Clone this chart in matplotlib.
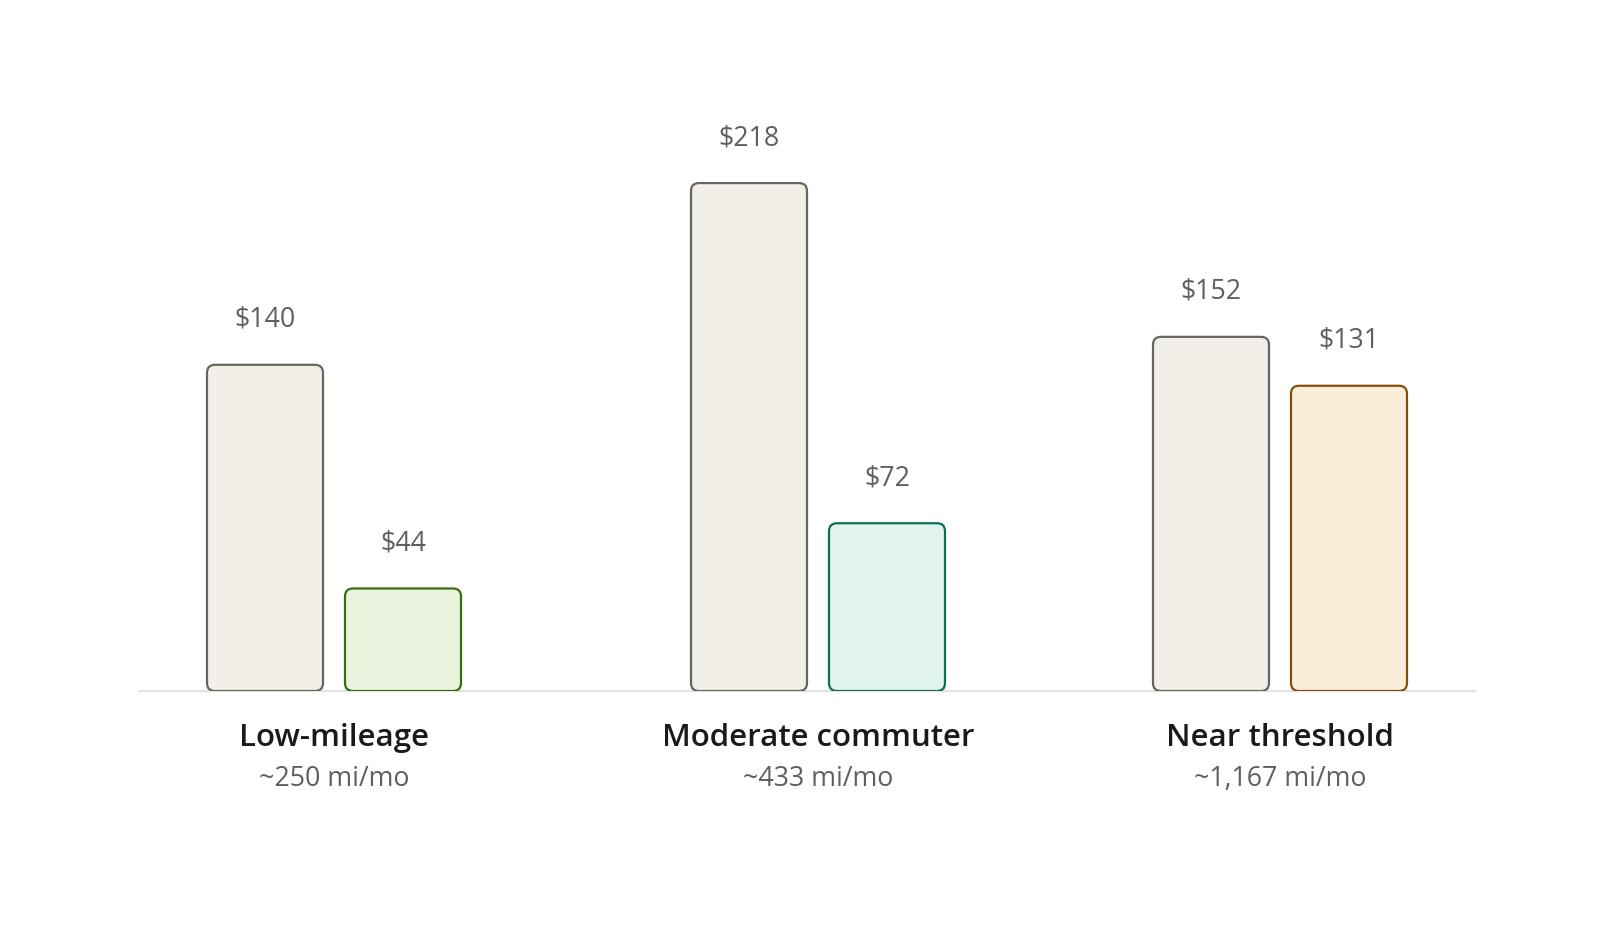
import matplotlib
matplotlib.use("Agg")
from matplotlib import pyplot as plt
from matplotlib.patches import FancyBboxPatch

plt.rcParams["font.family"] = ["Open Sans", "DejaVu Sans"]

# data
groups = ["Low-mileage", "Moderate commuter", "Near threshold"]
mileage = ["~250 mi/mo", "~433 mi/mo", "~1,167 mi/mo"]
gas_cost = [140, 218, 152]
ev_cost = [44, 72, 131]

# styling
group_x = [334, 818, 1280]
bar_w = 116
bar_gap = 22
px_per_dollar = 2.33
gas_style = ("#f2efe8", "#666660")
ev_styles = [("#eaf3de", "#3b6d11"), ("#e1f5ee", "#0f6e56"), ("#faeeda", "#854f0b")]
label_grey = "#5f5f5f"


def rounded_bar(ax, xc, value, face, edge):
    box = FancyBboxPatch((xc - bar_w / 2, 0), bar_w, value,
                         boxstyle="round,pad=0,rounding_size=8",
                         mutation_aspect=1 / px_per_dollar,
                         facecolor=face, edgecolor=edge, linewidth=1.6, zorder=3)
    ax.add_patch(box)
    ax.text(xc, value + 45 / px_per_dollar, "$" + str(value), ha="center", va="center",
            fontsize=19.3, color=label_grey, zorder=4)


def main():
    fig = plt.figure(figsize=(16, 9.41), dpi=100)
    bottom_px = 691
    ax = fig.add_axes([0, (941 - bottom_px) / 941, 1, bottom_px / 941])
    ax.set_xlim(0, 1600)
    ax.set_ylim(0, bottom_px / px_per_dollar)
    ax.axis("off")

    ax.plot([138, 1476], [0, 0], color="#e3e3e3", linewidth=1.6, zorder=2,
            solid_capstyle="butt", clip_on=False)

    for i in range(len(groups)):
        xa = group_x[i] - (bar_w + bar_gap) / 2
        xb = group_x[i] + (bar_w + bar_gap) / 2
        rounded_bar(ax, xa, gas_cost[i], *gas_style)
        rounded_bar(ax, xb, ev_cost[i], *ev_styles[i])

        ax.text(group_x[i], -47 / px_per_dollar, groups[i], ha="center", va="center",
                fontsize=22.5, fontweight="semibold", color="#1a1a1a", clip_on=False)
        ax.text(group_x[i], -88 / px_per_dollar, mileage[i], ha="center", va="center",
                fontsize=19.3, color=label_grey, clip_on=False)

    fig.savefig("out.png", dpi=100, facecolor="white")


main()
